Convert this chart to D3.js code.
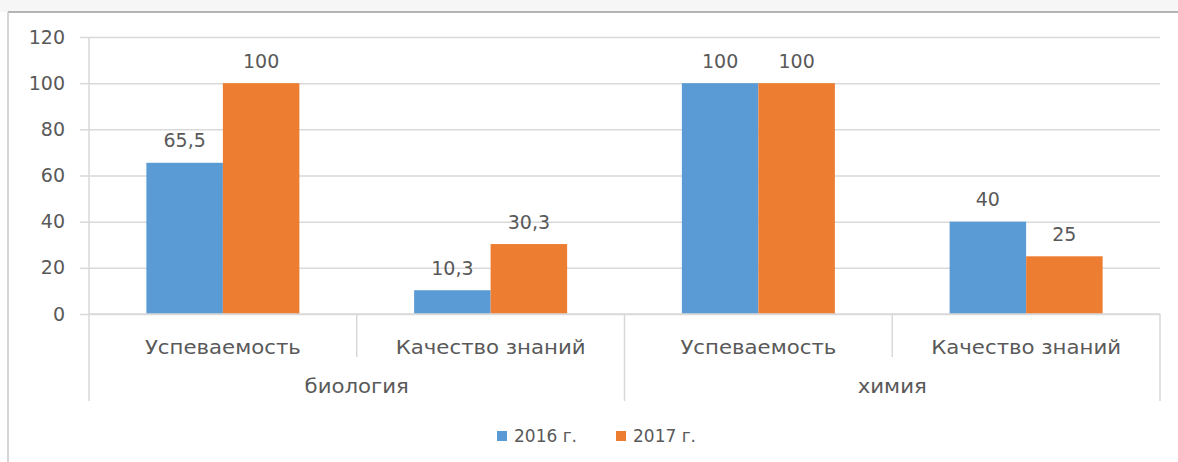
<!DOCTYPE html>
<html>
<head>
<meta charset="utf-8">
<script src="https://d3js.org/d3.v7.min.js"></script>
<style>
    body { margin: 0; background: #fff; }
    text { font-family: "DejaVu Sans", sans-serif; fill: #595959; }
</style>
</head>
<body>
<svg id="chart"></svg>
<script>
// data
var subjects = ["биология", "химия"];
var indicators = ["Успеваемость", "Качество знаний"];
var years = ["2016 г.", "2017 г."];
var values2016 = [65.5, 10.3, 100, 40];
var values2017 = [100, 30.3, 100, 25];
var yTicks = [0, 20, 40, 60, 80, 100, 120];

var colors = ["#5B9BD5", "#ED7D31"];

var W = 1178, H = 462;
var margin = {left: 89, right: 18, top: 37, bottom: 148};
var plotRight = W - margin.right,
    plotBottom = H - margin.bottom - 0;

var svg = d3.select("#chart")
    .attr("width", W)
    .attr("height", H);

// window frame (top strip + left border)
svg.append("rect")
    .attr("x", 0).attr("y", 0)
    .attr("width", W).attr("height", 12)
    .attr("fill", "#f6f6f6");
svg.append("line")
    .attr("x1", 8).attr("x2", W).attr("y1", 12).attr("y2", 12)
    .attr("stroke", "#b4b4b4").attr("stroke-width", 2);
svg.append("line")
    .attr("x1", 8).attr("x2", 8).attr("y1", 12).attr("y2", H)
    .attr("stroke", "#c8c8c8").attr("stroke-width", 1.5);

// scales
var y = d3.scaleLinear()
    .domain([0, 120])
    .range([314, 37]);

var xg = d3.scaleBand()
    .domain(subjects)
    .range([margin.left, plotRight]);

var x0 = d3.scaleBand()
    .domain(indicators)
    .range([0, xg.bandwidth()]);

var x1 = d3.scaleBand()
    .domain(years)
    .range([0, x0.bandwidth()])
    .paddingInner(0)
    .paddingOuter(0.75);

// rows: one per subject/indicator
var rows = [];
subjects.forEach(function(s, i) {
    indicators.forEach(function(ind, j) {
        var k = i * indicators.length + j;
        rows.push({subject: s, indicator: ind, vals: [values2016[k], values2017[k]]});
    });
});

// gridlines
svg.append("g")
    .attr("transform", "translate(" + margin.left + ",0)")
    .call(d3.axisLeft(y).tickValues(yTicks).tickSize(-(plotRight - margin.left)).tickFormat(""))
    .call(function(g) {
        g.select(".domain").remove();
        g.selectAll("line").attr("stroke", "#d9d9d9").attr("stroke-width", 1.5);
    });

// y axis with small outer ticks
svg.append("g")
    .attr("transform", "translate(" + margin.left + ",0)")
    .call(d3.axisLeft(y).tickValues(yTicks).tickSize(9).tickPadding(15))
    .call(function(g) {
        g.select(".domain").remove();
        g.selectAll("line").attr("stroke", "#d9d9d9").attr("stroke-width", 1.5);
        g.selectAll("text")
            .style("font-family", "DejaVu Sans, sans-serif")
            .style("font-size", "19px")
            .attr("fill", "#595959");
    });

// bars
var groups = svg.selectAll(".row")
    .data(rows)
    .enter().append("g")
    .attr("class", "row")
    .attr("transform", function(d) {
        return "translate(" + (xg(d.subject) + x0(d.indicator)) + ",0)";
    });

groups.selectAll("rect")
    .data(function(d) { return d.vals.map(function(v, i) { return {year: years[i], v: v, i: i}; }); })
    .enter().append("rect")
    .attr("x", function(d) { return x1(d.year); })
    .attr("y", function(d) { return y(d.v); })
    .attr("width", x1.bandwidth())
    .attr("height", function(d) { return y(0) - y(d.v); })
    .attr("fill", function(d) { return colors[d.i]; });

groups.selectAll(".lbl")
    .data(function(d) { return d.vals.map(function(v, i) { return {year: years[i], v: v}; }); })
    .enter().append("text")
    .attr("class", "lbl")
    .attr("x", function(d) { return x1(d.year) + x1.bandwidth() / 2; })
    .attr("y", function(d) { return y(d.v) - 22; })
    .attr("dy", "0.35em")
    .attr("text-anchor", "middle")
    .style("font-size", "19px")
    .text(function(d) { return String(d.v).replace(".", ","); });

// category axis: lines
var axisCol = "#d9d9d9";
var yBase = y(0);
svg.append("line")
    .attr("x1", margin.left).attr("x2", plotRight)
    .attr("y1", yBase).attr("y2", yBase)
    .attr("stroke", axisCol).attr("stroke-width", 1.5);
svg.append("line")
    .attr("x1", margin.left).attr("x2", margin.left)
    .attr("y1", y(120)).attr("y2", 401)
    .attr("stroke", axisCol).attr("stroke-width", 1.5);

subjects.forEach(function(s) {
    svg.append("line")
        .attr("x1", xg(s) + xg.bandwidth()).attr("x2", xg(s) + xg.bandwidth())
        .attr("y1", yBase).attr("y2", 401)
        .attr("stroke", axisCol).attr("stroke-width", 1.5);
    indicators.slice(1).forEach(function(ind) {
        svg.append("line")
            .attr("x1", xg(s) + x0(ind)).attr("x2", xg(s) + x0(ind))
            .attr("y1", yBase).attr("y2", 357)
            .attr("stroke", axisCol).attr("stroke-width", 1.5);
    });
});

// category labels (stretched a bit, like the original)
var sx = 1.12;
rows.forEach(function(d) {
    var cx = xg(d.subject) + x0(d.indicator) + x0.bandwidth() / 2;
    svg.append("text")
        .attr("transform", "translate(" + cx + ",347) scale(" + sx + ",1)")
        .attr("dy", "0.35em")
        .attr("text-anchor", "middle")
        .style("font-size", "19px")
        .text(d.indicator);
});

subjects.forEach(function(s) {
    svg.append("text")
        .attr("transform", "translate(" + (xg(s) + xg.bandwidth() / 2) + ",386) scale(" + sx + ",1)")
        .attr("dy", "0.35em")
        .attr("text-anchor", "middle")
        .style("font-size", "19px")
        .text(s);
});

// legend
var legend = svg.append("g")
    .attr("transform", "translate(497,436)");
var legX = [0, 119];
years.forEach(function(yr, i) {
    var g = legend.append("g").attr("transform", "translate(" + legX[i] + ",0)");
    g.append("rect")
        .attr("x", 0).attr("y", -5)
        .attr("width", 10).attr("height", 10)
        .attr("fill", colors[i]);
    g.append("text")
        .attr("x", 17)
        .attr("dy", "0.35em")
        .style("font-size", "17px")
        .text(yr);
});
</script>
</body>
</html>
